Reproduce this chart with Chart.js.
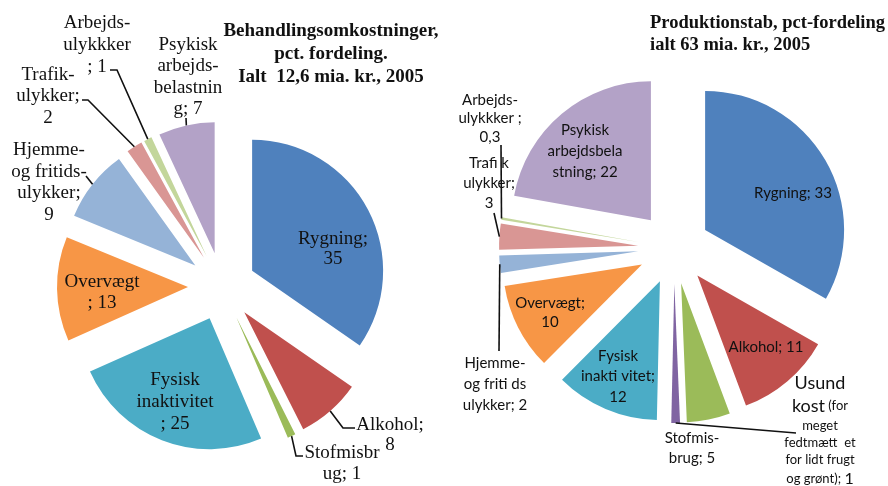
<!DOCTYPE html>
<html><head><meta charset="utf-8">
<script src="https://cdn.jsdelivr.net/npm/chart.js@4/dist/chart.umd.min.js"></script>
<style>
html,body{margin:0;padding:0;background:#fff;}
#wrap{position:relative;width:888px;height:486px;overflow:hidden;background:#fff;}
canvas{position:absolute;left:0;top:0;width:888px;height:486px;}
</style></head><body>
<div id="wrap"><canvas id="c1" width="888" height="486"></canvas><canvas id="c2" width="888" height="486"></canvas></div>
<script>
// ---------- data ----------
const leftCategories = ['Rygning','Alkohol','Stofmisbrug','Fysisk inaktivitet','Overvægt','Hjemme- og fritidsulykker','Trafikulykker','Arbejdsulykker','Psykisk arbejdsbelastning'];
const leftValues = [35, 8, 1, 25, 13, 9, 2, 1, 7];
const leftTitle = ['Behandlingsomkostninger,', 'pct. fordeling.', 'Ialt  12,6 mia. kr., 2005'];

const rightCategories = ['Rygning','Alkohol','Stofmisbrug','Usund kost','Fysisk inaktivitet','Overvægt','Hjemme- og fritidsulykker','Trafikulykker','Arbejdsulykker','Psykisk arbejdsbelastning'];
const rightValues = [33, 11, 5, 1, 12, 10, 2, 3, 0.3, 22];
const rightTitle = ['Produktionstab, pct-fordeling', 'ialt 63 mia. kr., 2005'];

// ---------- styles / layout ----------
const C = {blue:'#4F81BD', red:'#C0504D', green:'#9BBB59', purple:'#8064A2', cyan:'#4BACC6', orange:'#F79646',
           lblue:'#95B3D7', lred:'#D99694', lgreen:'#C3D69B', lpurple:'#B3A2C7'};
const leftColors = [C.blue, C.red, C.green, C.cyan, C.orange, C.lblue, C.lred, C.lgreen, C.lpurple];
const rightColors = [C.blue, C.red, C.green, C.purple, C.cyan, C.orange, C.lblue, C.lred, C.lgreen, C.lpurple];

const SERIF = '"Liberation Serif", "Times New Roman", serif';
const SANS = 'Lato, "Open Sans", sans-serif';

const leftLayout = {
  font: '19px ' + SERIF,
  title: {lines: leftTitle, x: 331, y: 31, lh: 23, align: 'center', font: 'bold 19px ' + SERIF},
  labels: [
    {x:333, y:239, lh:20, lines:['Rygning;','{v}']},
    {x:390, y:425, lh:20, lines:['Alkohol;','{v}'], leader:[[343,428],[355,428]]},
    {x:342, y:453, lh:21, lines:['Stofmisbr','ug; {v}'], leader:[[296,456],[303,456]]},
    {x:175, y:380, lh:22, lines:['Fysisk','inaktivitet','; {v}']},
    {x:102, y:282, lh:21, lines:['Overvægt','; {v}']},
    {x:49, y:150, lh:21.7, lines:['Hjemme-','og fritids-','ulykker;','{v}'], leader:[[86,176]]},
    {x:48, y:75, lh:21.5, lines:['Trafik-','ulykker;','{v}'], leader:[[88,100],[82,100]]},
    {x:97, y:23, lh:22, lines:['Arbejds-','ulykkker','; {v}'], leader:[[117,70],[110,70]]},
    {x:188, y:45, lh:21.3, lines:['Psykisk','arbejds-','belastnin','g; {v}'], leader:[[186,118]]}
  ]
};
const rightLayout = {
  font: '15px ' + SANS,
  title: {lines: rightTitle, x: 650, y: 23.5, lh: 21.5, align: 'left', font: 'bold 18.5px ' + SERIF},
  labels: [
    {x:793, y:193, lh:20, lines:['Rygning; {v}']},
    {x:766, y:347, lh:20, lines:['Alkohol; {v}']},
    {x:692, y:438, lh:20, lines:['Stofmis-','brug; {v}']},
    {x:820, ys:[383,406,426,443,460,479], lines:[
      [{t:'Usund', f:'18px ' + SANS}],
      [{t:'kost', f:'18px ' + SANS}, {t:' (for', f:'13px ' + SANS}],
      [{t:'meget', f:'13px ' + SANS}],
      [{t:'fedtmætt  et', f:'13px ' + SANS}],
      [{t:'for lidt frugt', f:'13px ' + SANS}],
      [{t:'og grønt); ', f:'13px ' + SANS}, {t:'{v}', f:'16px ' + SANS}]
    ], leader:[[796,433]]},
    {x:618, y:356, lh:20.5, lines:['Fysisk','inakti vitet;','{v}']},
    {x:550, y:303, lh:19, lines:['Overvægt;','{v}']},
    {x:495, y:363, lh:21, lines:['Hjemme-','og friti ds','ulykker; {v}'], leader:[[499,351]]},
    {x:489, y:163, lh:20, lines:['Trafi k','ulykker;','{v}'], leader:[[494,213]]},
    {x:490, y:100, lh:18.5, lines:['Arbejds-','ulykkker ;','{v}'], leader:[[501,145]]},
    {x:585, y:130, lh:21, lines:['Psykisk','arbejdsbela','stning; {v}']}
  ]
};

function fmt(v){ return String(v).replace('.', ','); }

// explode slices: move each arc along its bisector (keeps radius equal for all slices)
const explodePlugin = {
  id: 'explode',
  beforeDatasetsDraw(chart, args, opts) {
    const a = chart.chartArea;
    const cx = (a.left + a.right) / 2, cy = (a.top + a.bottom) / 2;
    chart.getDatasetMeta(0).data.forEach(el => {
      const mid = (el.startAngle + el.endAngle) / 2;
      el.x = cx + Math.cos(mid) * opts.distance;
      el.y = cy + Math.sin(mid) * opts.distance;
    });
  }
};

const labelPlugin = {
  id: 'pieLabels',
  afterDatasetsDraw(chart, args, opts) {
    const L = opts.layout;
    const ctx = chart.ctx;
    const meta = chart.getDatasetMeta(0);
    const data = chart.data.datasets[0].data;
    ctx.save();
    ctx.fillStyle = '#111';
    ctx.textBaseline = 'middle';
    // title
    ctx.font = L.title.font;
    ctx.textAlign = L.title.align;
    L.title.lines.forEach((s, i) => ctx.fillText(s, L.title.x, L.title.y + i * L.title.lh));
    // leaders
    ctx.strokeStyle = '#111';
    ctx.lineWidth = 1.6;
    L.labels.forEach((lb, i) => {
      if (!lb.leader) return;
      const el = meta.data[i];
      const mid = (el.startAngle + el.endAngle) / 2;
      const sx = el.x + Math.cos(mid) * el.outerRadius;
      const sy = el.y + Math.sin(mid) * el.outerRadius;
      ctx.beginPath();
      ctx.moveTo(sx, sy);
      lb.leader.forEach(p => ctx.lineTo(p[0], p[1]));
      ctx.stroke();
    });
    // labels
    L.labels.forEach((lb, i) => {
      const v = fmt(data[i]);
      lb.lines.forEach((line, j) => {
        const y = lb.ys ? lb.ys[j] : lb.y + j * lb.lh;
        const segs = typeof line === 'string' ? [{t: line, f: L.font}] : line;
        let w = 0;
        segs.forEach(s => { ctx.font = s.f; s._t = s.t.replace('{v}', v); s._w = ctx.measureText(s._t).width; w += s._w; });
        let x = lb.x - w / 2;
        ctx.textAlign = 'left';
        segs.forEach(s => { ctx.font = s.f; ctx.fillText(s._t, x, y); x += s._w; });
      });
    });
    ctx.restore();
  }
};

function makePie(id, cats, vals, colors, layout, padding, radius, distance) {
  return new Chart(document.getElementById(id), {
    type: 'pie',
    data: { labels: cats, datasets: [{ data: vals, backgroundColor: colors, borderWidth: 0, hoverOffset: 0 }] },
    options: {
      responsive: false, maintainAspectRatio: false, animation: false, devicePixelRatio: 1,
      events: [],
      radius: radius,
      layout: { padding: padding },
      plugins: { legend: {display: false}, tooltip: {enabled: false}, title: {display: false},
                 explode: {distance: distance}, pieLabels: {layout: layout} }
    },
    plugins: [explodePlugin, labelPlugin]
  });
}

makePie('c1', leftCategories, leftValues, leftColors, leftLayout, {left:0, right:444, top:87, bottom:0}, 131, 34);
makePie('c2', rightCategories, rightValues, rightColors, rightLayout, {left:460, right:0, top:10, bottom:0}, 139, 36);
</script>
</body></html>
